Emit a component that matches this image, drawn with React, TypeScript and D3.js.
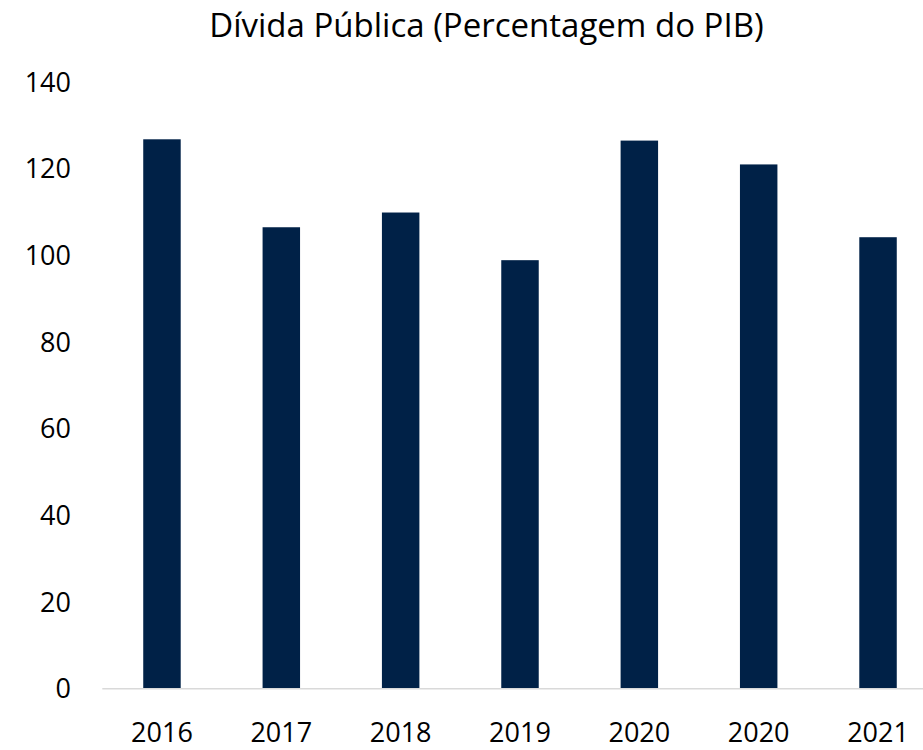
import React from "react";
import * as d3 from "d3";

const categories = ["2016", "2017", "2018", "2019", "2020", "2020", "2021"];
const values = [126.8, 106.5, 109.9, 98.9, 126.5, 121.0, 104.2];
const yTicks = [0, 20, 40, 60, 80, 100, 120, 140];
const title = "Dívida Pública (Percentagem do PIB)";

const W = 923;
const H = 750;
const FONT = "'Open Sans', 'Noto Sans', sans-serif";

export default function App() {
  const idx = categories.map((_, i) => String(i));
  const x = d3
    .scaleBand<string>()
    .domain(idx)
    .range([102.3, 937.7])
    .paddingInner(0.686)
    .paddingOuter(0.343);
  const y = d3.scaleLinear().domain([0, 140]).range([688.7, 82.1]);

  return (
    <svg
      width={W}
      height={H}
      style={{ position: "absolute", left: 0, top: 0, background: "#fff" }}
      fontFamily={FONT}
    >
      <text x={486.5} y={36.5} textAnchor="middle" fontSize={33} fill="#000">
        {title}
      </text>
      {yTicks.map((t) => (
        <text
          key={t}
          x={71}
          y={y(t)}
          dy="0.36em"
          textAnchor="end"
          fontSize={27}
          fill="#000"
        >
          {t}
        </text>
      ))}
      {values.map((v, i) => (
        <rect
          key={i}
          x={x(String(i))}
          y={y(v)}
          width={x.bandwidth()}
          height={y(0) - y(v)}
          fill="#002147"
        />
      ))}
      <line x1={102.3} x2={W} y1={y(0)} y2={y(0)} stroke="#d9d9d9" strokeWidth={1.5} />
      {categories.map((c, i) => (
        <text
          key={i}
          x={(x(String(i)) as number) + x.bandwidth() / 2}
          y={741.7}
          textAnchor="middle"
          fontSize={27}
          fill="#000"
        >
          {c}
        </text>
      ))}
    </svg>
  );
}
